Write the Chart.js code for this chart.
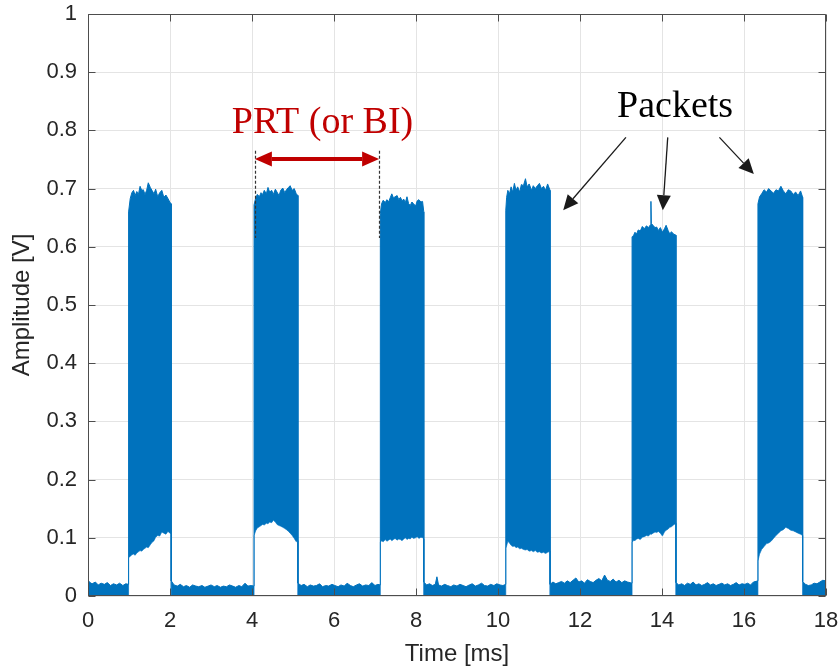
<!DOCTYPE html>
<html>
<head>
<meta charset="utf-8">
<title>Amplitude vs time</title>
<script src="https://cdn.jsdelivr.net/npm/chart.js@4/dist/chart.umd.min.js"></script>
<style>
  html, body { margin: 0; padding: 0; background: #ffffff; }
  canvas { display: block; }
</style>
</head>
<body>
<canvas id="trace" width="838" height="670"></canvas>
<script>
// Envelope of the received signal: sample times (ms), upper envelope (V),
// lower envelope (V). Quiet stretches have a floor of 0.
const timeMs = [
  // quiet
  0.00,0.05,0.10,0.18,0.25,0.32,0.40,0.47,0.55,0.62,0.70,0.77,0.85,0.92,0.99,
  // packet 1
  0.99,1.03,1.07,1.11,1.15,1.19,1.23,1.27,1.31,1.35,1.39,1.43,1.47,1.52,1.56,1.61,1.65,1.70,1.75,1.80,1.85,1.90,1.95,2.00,2.03,
  // quiet
  2.03,2.10,2.18,2.25,2.33,2.40,2.48,2.55,2.63,2.70,2.78,2.85,2.93,3.00,3.08,3.15,3.23,3.30,3.38,3.45,3.53,3.60,3.68,3.75,3.83,3.90,3.98,4.05,
  // packet 2
  4.05,4.09,4.13,4.18,4.22,4.26,4.30,4.35,4.39,4.43,4.48,4.52,4.57,4.61,4.66,4.70,4.75,4.80,4.84,4.89,4.93,4.98,5.03,5.08,5.12,
  // quiet
  5.12,5.20,5.27,5.35,5.42,5.50,5.57,5.65,5.72,5.80,5.87,5.95,6.02,6.10,6.17,6.25,6.32,6.40,6.47,6.55,6.62,6.70,6.77,6.85,6.92,7.00,7.07,7.13,
  // packet 3
  7.13,7.16,7.20,7.25,7.29,7.33,7.37,7.41,7.45,7.49,7.54,7.58,7.62,7.66,7.70,7.74,7.78,7.82,7.86,7.90,7.94,7.99,8.03,8.07,8.12,8.16,8.19,
  // quiet
  8.19,8.26,8.33,8.40,8.47,8.51,8.55,8.62,8.70,8.77,8.85,8.92,9.00,9.07,9.15,9.22,9.30,9.37,9.45,9.52,9.60,9.67,9.75,9.82,9.90,9.97,10.05,10.12,10.19,
  // packet 4
  10.19,10.21,10.24,10.28,10.32,10.36,10.40,10.44,10.48,10.53,10.57,10.62,10.67,10.71,10.76,10.82,10.86,10.91,10.96,11.01,11.06,11.11,11.16,11.21,11.27,
  // quiet
  11.27,11.34,11.41,11.48,11.55,11.62,11.69,11.76,11.83,11.90,11.97,12.04,12.11,12.18,12.25,12.32,12.39,12.46,12.53,12.60,12.67,12.74,12.81,12.88,12.95,13.02,13.09,13.16,13.27,
  // packet 5
  13.27,13.31,13.34,13.38,13.42,13.47,13.52,13.57,13.62,13.67,13.72,13.73,13.74,13.78,13.83,13.87,13.91,13.96,14.01,14.06,14.10,14.15,14.19,14.23,14.28,14.34,
  // quiet
  14.34,14.41,14.48,14.55,14.62,14.69,14.76,14.83,14.90,14.97,15.04,15.11,15.18,15.25,15.32,15.39,15.46,15.53,15.60,15.67,15.74,15.81,15.88,15.95,16.02,16.09,16.16,16.23,16.34,
  // packet 6
  16.34,16.38,16.43,16.49,16.55,16.60,16.66,16.72,16.78,16.84,16.90,16.96,17.02,17.08,17.14,17.20,17.26,17.32,17.38,17.43,
  // quiet
  17.43,17.50,17.57,17.64,17.71,17.78,17.85,17.92,18.00
];

const peakV = [
  0.027,0.023,0.021,0.024,0.019,0.022,0.020,0.023,0.018,0.021,0.019,0.022,0.018,0.021,0.020,
  0.660,0.683,0.693,0.697,0.688,0.695,0.690,0.704,0.697,0.698,0.690,0.697,0.710,0.702,0.697,0.691,0.699,0.686,0.693,0.697,0.685,0.689,0.683,0.676,0.674,
  0.026,0.019,0.017,0.020,0.016,0.018,0.015,0.019,0.017,0.016,0.018,0.015,0.017,0.019,0.016,0.018,0.015,0.017,0.016,0.019,0.017,0.015,0.018,0.016,0.022,0.017,0.018,0.017,
  0.672,0.684,0.690,0.686,0.693,0.690,0.697,0.691,0.702,0.694,0.697,0.690,0.699,0.694,0.688,0.697,0.701,0.693,0.698,0.702,0.705,0.697,0.700,0.691,0.688,
  0.022,0.018,0.020,0.016,0.019,0.017,0.018,0.021,0.016,0.018,0.017,0.020,0.018,0.016,0.019,0.017,0.022,0.018,0.016,0.019,0.021,0.017,0.019,0.018,0.023,0.018,0.020,0.019,
  0.657,0.674,0.680,0.676,0.681,0.677,0.684,0.691,0.684,0.686,0.688,0.681,0.685,0.679,0.682,0.676,0.686,0.674,0.671,0.677,0.674,0.670,0.679,0.681,0.677,0.678,0.660,
  0.024,0.019,0.021,0.018,0.020,0.033,0.019,0.017,0.020,0.018,0.016,0.019,0.017,0.020,0.018,0.016,0.019,0.021,0.017,0.019,0.022,0.018,0.017,0.020,0.018,0.021,0.019,0.018,0.020,
  0.663,0.685,0.697,0.691,0.703,0.694,0.709,0.697,0.703,0.694,0.707,0.705,0.717,0.703,0.708,0.697,0.705,0.700,0.705,0.709,0.700,0.704,0.697,0.708,0.697,
  0.020,0.024,0.021,0.023,0.025,0.022,0.026,0.023,0.027,0.031,0.024,0.026,0.022,0.028,0.025,0.023,0.027,0.030,0.026,0.036,0.027,0.025,0.029,0.024,0.027,0.023,0.026,0.024,0.022,
  0.617,0.620,0.625,0.622,0.629,0.627,0.635,0.631,0.636,0.633,0.638,0.678,0.640,0.637,0.633,0.634,0.628,0.633,0.625,0.631,0.637,0.628,0.622,0.626,0.622,0.620,
  0.023,0.019,0.021,0.018,0.022,0.020,0.024,0.019,0.021,0.018,0.020,0.023,0.019,0.021,0.018,0.020,0.022,0.019,0.021,0.018,0.020,0.023,0.019,0.021,0.020,0.022,0.019,0.024,0.026,
  0.674,0.686,0.691,0.698,0.694,0.700,0.696,0.692,0.698,0.696,0.704,0.696,0.691,0.698,0.696,0.690,0.694,0.688,0.696,0.685,
  0.025,0.020,0.018,0.019,0.022,0.021,0.024,0.027,0.026
];

const floorV = [
  0,0,0,0,0,0,0,0,0,0,0,0,0,0,0,
  0.066,0.068,0.071,0.072,0.070,0.074,0.076,0.078,0.077,0.080,0.082,0.084,0.083,0.088,0.092,0.095,0.101,0.104,0.103,0.110,0.108,0.106,0.111,0.108,0.106,
  0,0,0,0,0,0,0,0,0,0, 0,0,0,0,0,0,0,0,0,0, 0,0,0,0,0,0,0,0,
  0.104,0.112,0.117,0.119,0.121,0.123,0.122,0.125,0.124,0.127,0.126,0.130,0.127,0.123,0.121,0.120,0.118,0.116,0.114,0.111,0.108,0.104,0.099,0.093,0.095,
  0,0,0,0,0,0,0,0,0,0, 0,0,0,0,0,0,0,0,0,0, 0,0,0,0,0,0,0,0,
  0.092,0.095,0.093,0.097,0.094,0.096,0.098,0.095,0.097,0.099,0.096,0.098,0.097,0.095,0.098,0.100,0.097,0.099,0.098,0.101,0.099,0.100,0.102,0.099,0.101,0.100,0.098,
  0,0,0,0,0,0,0,0,0,0, 0,0,0,0,0,0,0,0,0,0, 0,0,0,0,0,0,0,0,0,
  0.082,0.086,0.094,0.091,0.087,0.085,0.086,0.083,0.084,0.081,0.082,0.080,0.079,0.080,0.077,0.078,0.076,0.078,0.075,0.076,0.074,0.075,0.073,0.075,0.077,
  0,0,0,0,0,0,0,0,0,0, 0,0,0,0,0,0,0,0,0,0, 0,0,0,0,0,0,0,0,0,
  0.092,0.096,0.095,0.098,0.099,0.097,0.101,0.102,0.104,0.103,0.107,0.106,0.106,0.108,0.110,0.109,0.111,0.108,0.103,0.110,0.113,0.115,0.118,0.119,0.122,0.125,
  0,0,0,0,0,0,0,0,0,0, 0,0,0,0,0,0,0,0,0,0, 0,0,0,0,0,0,0,0,0,
  0.060,0.072,0.080,0.085,0.090,0.091,0.094,0.099,0.104,0.108,0.112,0.114,0.118,0.116,0.113,0.112,0.110,0.108,0.106,0.104,
  0,0,0,0,0,0,0,0,0
];

const xTickValues = [0, 2, 4, 6, 8, 10, 12, 14, 16, 18];
const xTickLabels = ['0', '2', '4', '6', '8', '10', '12', '14', '16', '18'];
const yTickValues = [0, 0.1, 0.2, 0.3, 0.4, 0.5, 0.6, 0.7, 0.8, 0.9, 1];
const yTickLabels = ['0', '0.1', '0.2', '0.3', '0.4', '0.5', '0.6', '0.7', '0.8', '0.9', '1'];

if (peakV.length !== timeMs.length || floorV.length !== timeMs.length) {
  throw new Error('length mismatch: t=' + timeMs.length + ' peak=' + peakV.length + ' floor=' + floorV.length);
}

const TRACE_BLUE = '#0072BD';
const EDGE_BLUE = '#5AA5DC';
const INK = '#262626';

// Box around the plot with inward tick marks on all four sides
const axisFrame = {
  id: 'axisFrame',
  afterDatasetsDraw(chart) {
    const { ctx, chartArea: a, scales: { x, y } } = chart;
    const L = Math.round(a.left) + 0.5, R = Math.round(a.right) - 0.5;
    const T = Math.round(a.top) + 0.5, B = Math.round(a.bottom) - 0.5;
    const len = 7;
    ctx.save();
    ctx.strokeStyle = '#4d4d4d';
    ctx.lineWidth = 1;
    ctx.beginPath();
    ctx.rect(L, T, R - L, B - T);
    xTickValues.forEach(v => {
      const px = Math.round(x.getPixelForValue(v)) + 0.5;
      ctx.moveTo(px, B); ctx.lineTo(px, B - len);
      ctx.moveTo(px, T); ctx.lineTo(px, T + len);
    });
    yTickValues.forEach(v => {
      const py = Math.round(y.getPixelForValue(v)) + 0.5;
      ctx.moveTo(L, py); ctx.lineTo(L + len, py);
      ctx.moveTo(R, py); ctx.lineTo(R - len, py);
    });
    ctx.stroke();
    ctx.restore();
  }
};

function arrowHead(ctx, fromX, fromY, tipX, tipY, len, half) {
  const ang = Math.atan2(tipY - fromY, tipX - fromX);
  const bx = tipX - len * Math.cos(ang), by = tipY - len * Math.sin(ang);
  ctx.beginPath();
  ctx.moveTo(tipX, tipY);
  ctx.lineTo(bx + half * Math.sin(ang), by - half * Math.cos(ang));
  ctx.lineTo(bx - half * Math.sin(ang), by + half * Math.cos(ang));
  ctx.closePath();
  ctx.fill();
  return [bx, by];
}

function arrow(ctx, x0, y0, x1, y1, opt) {
  ctx.save();
  ctx.strokeStyle = opt.color;
  ctx.fillStyle = opt.color;
  ctx.lineWidth = opt.width;
  const end = arrowHead(ctx, x0, y0, x1, y1, opt.len, opt.half);
  let start = [x0, y0];
  if (opt.both) start = arrowHead(ctx, x1, y1, x0, y0, opt.len, opt.half);
  ctx.beginPath();
  ctx.moveTo(start[0], start[1]);
  ctx.lineTo(end[0], end[1]);
  ctx.stroke();
  ctx.restore();
}

// Callouts: repetition interval and packet labels, placed in axis units
const callouts = {
  id: 'callouts',
  afterDraw(chart) {
    const { ctx, scales: { x, y } } = chart;
    const X = v => x.getPixelForValue(v);
    const Y = v => y.getPixelForValue(v);
    ctx.save();

    // dashed markers at the start of two consecutive packets
    ctx.setLineDash([3, 2]);
    ctx.strokeStyle = '#333333';
    ctx.lineWidth = 1.2;
    [4.07, 7.10].forEach(t => {
      const px = Math.round(X(t)) + 0.5;
      ctx.beginPath();
      ctx.moveTo(px, Y(0.765));
      ctx.lineTo(px, Y(0.615));
      ctx.stroke();
    });
    ctx.setLineDash([]);

    arrow(ctx, X(4.07), Y(0.751), X(7.10), Y(0.751),
      { both: true, color: '#C00000', width: 4, len: 17, half: 7.5 });

    ctx.textAlign = 'center';
    ctx.textBaseline = 'alphabetic';
    ctx.font = '38px "Liberation Serif", "Times New Roman", serif';
    ctx.fillStyle = '#C00000';
    ctx.fillText('PRT (or BI)', X(5.72), Y(0.795));
    ctx.fillStyle = '#000000';
    ctx.fillText('Packets', X(14.32), Y(0.8225));

    const black = { color: '#1a1a1a', width: 1.3, len: 15, half: 7 };
    arrow(ctx, X(13.12), Y(0.788), X(11.59), Y(0.663), black);
    arrow(ctx, X(14.14), Y(0.788), X(14.02), Y(0.663), black);
    arrow(ctx, X(15.40), Y(0.788), X(16.24), Y(0.725), black);
    ctx.restore();
  }
};

const tickFont = { family: '"Liberation Sans", Arial, sans-serif', size: 22 };
const titleFont = { family: '"Liberation Sans", Arial, sans-serif', size: 24 };

new Chart(document.getElementById('trace'), {
  type: 'line',
  data: {
    datasets: [
      {
        label: 'upper',
        data: timeMs.map((t, i) => ({ x: t, y: peakV[i] })),
        borderColor: TRACE_BLUE,
        backgroundColor: TRACE_BLUE,
        borderWidth: 1,
        borderJoinStyle: 'bevel',
        pointRadius: 0,
        tension: 0,
        fill: { target: 1 }
      },
      {
        label: 'lower',
        data: timeMs.map((t, i) => ({ x: t, y: floorV[i] })),
        borderColor: EDGE_BLUE,
        borderWidth: 1,
        pointRadius: 0,
        tension: 0,
        fill: false
      }
    ]
  },
  options: {
    responsive: false,
    animation: false,
    devicePixelRatio: 1,
    layout: { padding: { top: 14, right: 12, left: 0, bottom: 0 } },
    plugins: {
      legend: { display: false },
      tooltip: { enabled: false }
    },
    scales: {
      x: {
        type: 'linear',
        min: 0,
        max: 18,
        afterBuildTicks: s => { s.ticks = xTickValues.map(v => ({ value: v })); },
        afterFit: s => { s.height = 74; s.paddingLeft = 0; s.paddingRight = 0; },
        grid: { color: '#e4e4e4', drawTicks: false },
        border: { display: false },
        ticks: {
          color: INK, font: tickFont, padding: 12, maxRotation: 0, autoSkip: false,
          callback: (v, i) => xTickLabels[i]
        },
        title: {
          display: true, text: 'Time [ms]', color: INK, font: titleFont,
          padding: { top: 0, bottom: 1 }
        }
      },
      y: {
        type: 'linear',
        min: 0,
        max: 1,
        afterBuildTicks: s => { s.ticks = yTickValues.map(v => ({ value: v })); },
        afterFit: s => { s.width = 88; s.paddingTop = 0; s.paddingBottom = 0; },
        grid: { color: '#e4e4e4', drawTicks: false },
        border: { display: false },
        ticks: {
          color: INK, font: tickFont, padding: 11, autoSkip: false,
          callback: (v, i) => yTickLabels[i]
        },
        title: {
          display: true, text: 'Amplitude [V]', color: INK, font: titleFont,
          padding: { top: 8, bottom: 0 }
        }
      }
    }
  },
  plugins: [axisFrame, callouts]
});
</script>
</body>
</html>
